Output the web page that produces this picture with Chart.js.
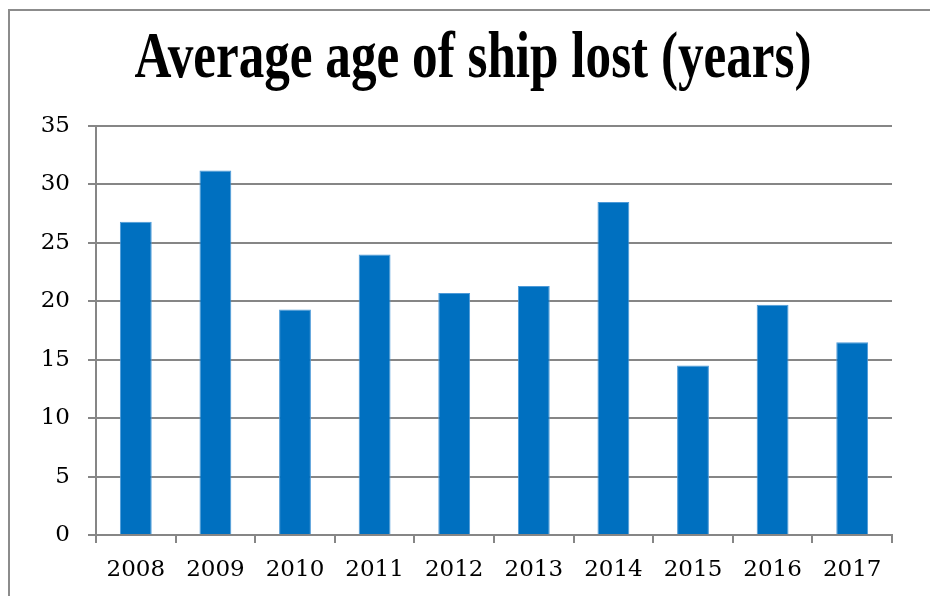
<!DOCTYPE html>
<html>
<head>
<meta charset="utf-8">
<title>Average age of ship lost</title>
<script src="https://cdn.jsdelivr.net/npm/chart.js@4.4.1/dist/chart.umd.min.js"></script>
<style>
  html, body { margin: 0; padding: 0; background: #fff; }
  #wrap { position: relative; width: 930px; height: 596px; overflow: hidden; }
  #frame { position: absolute; left: 8px; top: 9px; width: 940px; height: 620px;
           border-top: 2px solid #8c8c8c; border-left: 2px solid #8c8c8c; }
  #title { position: absolute; left: 473px; top: 22px; white-space: nowrap;
           font: bold 66px "Liberation Serif", serif; line-height: 66px; color: #000;
           transform-origin: 50% 50%; }
  canvas { position: absolute; left: 0; top: 0; }
</style>
</head>
<body>
<div id="wrap">
  <div id="frame"></div>
  <canvas id="chart" width="930" height="596"></canvas>
  <div id="title">Average age of ship lost (years)</div>
</div>
<script>
// values
const years = ['2008', '2009', '2010', '2011', '2012', '2013', '2014', '2015', '2016', '2017'];
const avgAge = [26.8, 31.2, 19.3, 24.0, 20.7, 21.3, 28.5, 14.5, 19.7, 16.5];
const yTicks = [0, 5, 10, 15, 20, 25, 30, 35];

const GRID = '#868686';
const BLUE = '#0070c0';

// squeeze the title to the reference width (condensed serif)
const titleEl = document.getElementById('title');
const titleW = titleEl.getBoundingClientRect().width;
titleEl.style.transform = 'translateX(-50%) scaleX(' + (677 / titleW) + ')';

new Chart(document.getElementById('chart').getContext('2d'), {
  type: 'bar',
  data: {
    labels: years,
    datasets: [{
      label: 'Average age',
      data: avgAge,
      backgroundColor: BLUE,
      borderColor: '#4d9ad8',
      borderWidth: { top: 1, left: 1, right: 1, bottom: 0 },
      barPercentage: 0.4,
      categoryPercentage: 1.0,
    }]
  },
  options: {
    responsive: false,
    animation: false,
    devicePixelRatio: 1,
    layout: { padding: { left: 0, right: 38, top: 126, bottom: 0 } },
    plugins: { legend: { display: false }, title: { display: false }, tooltip: { enabled: false } },
    scales: {
      x: {
        afterFit: s => { s.height = 61; },
        grid: { display: true, drawOnChartArea: false, drawTicks: true, tickLength: 8, color: GRID, lineWidth: 2, offset: true },
        border: { display: true, color: GRID, width: 2 },
        ticks: { color: '#000', font: { family: 'DejaVu Serif', size: 23 }, padding: 13, maxRotation: 0 }
      },
      y: {
        min: 0,
        max: 35,
        afterFit: s => { s.width = 96; },
        afterBuildTicks: s => { s.ticks = yTicks.map(v => ({ value: v })); },
        grid: { color: GRID, lineWidth: 2, tickLength: 8, drawTicks: true },
        border: { display: true, color: GRID, width: 2 },
        ticks: { color: '#000', font: { family: 'DejaVu Serif', size: 23 }, padding: 18 }
      }
    }
  }
});
</script>
</body>
</html>
